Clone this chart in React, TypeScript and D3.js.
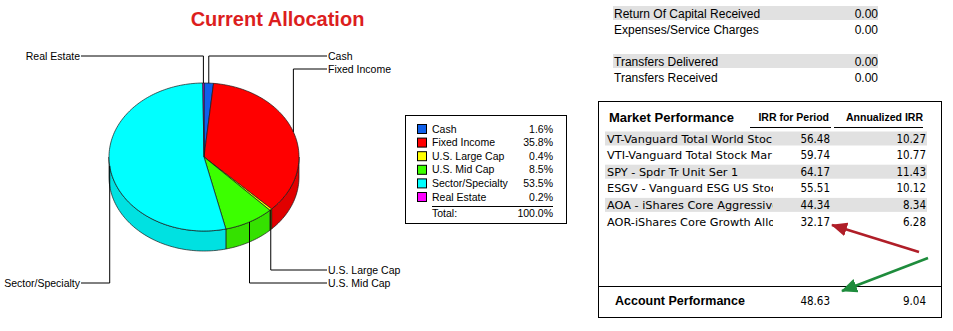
import React from "react";
import * as d3 from "d3";

const categories = ["Cash", "Fixed Income", "U.S. Large Cap", "U.S. Mid Cap", "Sector/Specialty", "Real Estate"];
const allocation = [1.6, 35.8, 0.4, 8.5, 53.5, 0.2];
const sliceColors = ["#1060ea", "#ff0000", "#ffff00", "#3cff00", "#00ffff", "#ff00ff"];
const totalLabel = "Total:";
const totalValue = 100.0;

const summaryLabels = ["Return Of Capital Received", "Expenses/Service Charges", "Transfers Delivered", "Transfers Received"];
const summaryValues = [0, 0, 0, 0];

const funds = [
  "VT-Vanguard Total World Stoc",
  "VTI-Vanguard Total Stock Mar",
  "SPY - Spdr Tr Unit Ser 1",
  "ESGV - Vanguard ESG US Stoc",
  "AOA - iShares Core Aggressive",
  "AOR-iShares Core Growth Alloc",
];
const irrPeriod = [56.48, 59.74, 64.17, 55.51, 44.34, 32.17];
const irrAnnual = [10.27, 10.77, 11.43, 10.12, 8.34, 6.28];
const accountIrr = [48.63, 9.04];

const FONT = "'Liberation Sans', Arial, sans-serif";
const TFONT = "'DejaVu Sans Condensed', 'DejaVu Sans', sans-serif";
const NFONT = "'DejaVu Sans', sans-serif";

function Pie3D() {
  const cx = 204, cy = 157, rx = 95, ry = 74, depth = 20;
  const pie = d3.pie<number>().sort(null).startAngle(0).endAngle(2 * Math.PI);
  const arcs = pie(allocation);
  const pt = (t: number, dy = 0): [number, number] => [cx + rx * Math.sin(t), cy - ry * Math.cos(t) + dy];
  const sample = (a0: number, a1: number, dy = 0) => {
    const n = Math.max(2, Math.ceil(((a1 - a0) / (2 * Math.PI)) * 240));
    return d3.range(n + 1).map((i) => pt(a0 + ((a1 - a0) * i) / n, dy));
  };
  const line = d3.line();
  const darker = (c: string) => d3.rgb(c).darker(0.35).formatHex();

  const sides = arcs.map((a, i) => {
    const s = Math.max(a.startAngle, Math.PI / 2);
    const e = Math.min(a.endAngle, (3 * Math.PI) / 2);
    if (s >= e) return null;
    const pts = [...sample(s, e), ...sample(s, e, depth).reverse()];
    return <path key={"s" + i} d={line(pts) + "Z"} fill={darker(sliceColors[i])} stroke="#1a1a1a" strokeWidth={0.7} />;
  });
  const tops = arcs.map((a, i) => {
    const pts: [number, number][] = [[cx, cy], ...sample(a.startAngle, a.endAngle)];
    return <path key={"t" + i} d={line(pts) + "Z"} fill={sliceColors[i]} stroke="#1a1a1a" strokeWidth={0.7} />;
  });

  const topY = 56, botY = 283, step = 13, rightX = 327, leftX = 81;
  const info = arcs.map((a, i) => {
    const m = (a.startAngle + a.endAngle) / 2;
    return { i, m, right: Math.sin(m) > 0, back: Math.cos(m) > 0 };
  });
  const yOf: number[] = [];
  const assign = (list: typeof info, startY: number, dir: number) => list.forEach((d, k) => (yOf[d.i] = startY + dir * k * step));
  assign(info.filter((d) => d.back && d.right).sort((a, b) => a.m - b.m), topY, 1);
  assign(info.filter((d) => d.back && !d.right).sort((a, b) => b.m - a.m), topY, 1);
  assign(info.filter((d) => !d.back && d.right).sort((a, b) => b.m - a.m), botY, -1);
  assign(info.filter((d) => !d.back && !d.right).sort((a, b) => a.m - b.m), botY, -1);

  const labels = info.map((d) => {
    const [x, y] = pt(d.m);
    const ly = yOf[d.i];
    const ex = d.right ? rightX : leftX;
    return (
      <g key={"l" + d.i}>
        <polyline points={`${x},${y} ${x},${ly} ${ex},${ly}`} fill="none" stroke="#000" strokeWidth={1} />
        <text x={d.right ? ex + 1 : ex - 1} y={ly + 3.5} fontSize={10.5} fontFamily={FONT} textAnchor={d.right ? "start" : "end"}>
          {categories[d.i]}
        </text>
      </g>
    );
  });

  return (
    <g>
      {sides}
      {tops}
      {labels}
    </g>
  );
}

function Legend() {
  const x0 = 405, y0 = 115, w = 161, h = 108;
  const rowY = (i: number) => y0 + 14 + i * 13.6;
  return (
    <g fontFamily={FONT} fontSize={10.5}>
      <rect x={x0 + 0.5} y={y0 + 0.5} width={w} height={h} fill="#fff" stroke="#000" />
      {categories.map((c, i) => (
        <g key={c}>
          <rect x={x0 + 12.5} y={rowY(i) - 4.5} width={9} height={9} fill={sliceColors[i]} stroke="#000" />
          <text x={x0 + 27} y={rowY(i) + 3.5}>{c}</text>
          <text x={x0 + 148} y={rowY(i) + 3.5} textAnchor="end">{allocation[i].toFixed(1)}%</text>
        </g>
      ))}
      <line x1={x0 + 27} x2={x0 + 148} y1={y0 + 91.5} y2={y0 + 91.5} stroke="#000" />
      <text x={x0 + 27} y={y0 + 102}>{totalLabel}</text>
      <text x={x0 + 148} y={y0 + 102} textAnchor="end">{totalValue.toFixed(1)}%</text>
    </g>
  );
}

function Summary() {
  const x0 = 613, x1 = 878;
  return (
    <g fontFamily={FONT} fontSize={12}>
      {summaryLabels.map((s, i) => {
        const g = Math.floor(i / 2), j = i % 2;
        const base = 18 + g * 48 + j * 15.5;
        return (
          <g key={s}>
            {j === 0 && <rect x={x0} y={base - 12} width={x1 - x0} height={14} fill="#e1e1e1" />}
            <text x={x0 + 1} y={base}>{s}</text>
            <text x={x1} y={base} textAnchor="end">{summaryValues[i].toFixed(2)}</text>
          </g>
        );
      })}
    </g>
  );
}

function Market() {
  const bx = 598.5, by = 101.5, bw = 343, bh = 216;
  const pitch = 16.6;
  const y = d3.scaleBand<number>().domain(d3.range(funds.length)).range([131.5, 131.5 + pitch * funds.length]);
  const nameClipR = 773, c1 = 830, c2 = 926;
  return (
    <g fontFamily={FONT}>
      <defs>
        <clipPath id="nameclip">
          <rect x={600} y={125} width={nameClipR - 600} height={110} />
        </clipPath>
        <marker id="arrR" viewBox="0 0 16 14" refX={15} refY={7} markerWidth={16} markerHeight={14} markerUnits="userSpaceOnUse" orient="auto">
          <path d="M0,0 L16,7 L0,14 Z" fill="#b01e28" />
        </marker>
        <marker id="arrG" viewBox="0 0 16 14" refX={15} refY={7} markerWidth={16} markerHeight={14} markerUnits="userSpaceOnUse" orient="auto">
          <path d="M0,0 L16,7 L0,14 Z" fill="#1e8c3c" />
        </marker>
      </defs>
      <rect x={bx} y={by} width={bw} height={bh} fill="#fff" stroke="#000" />
      <text x={609} y={122} fontSize={13} fontWeight="bold">Market Performance</text>
      <text x={c1 - 1} y={121} fontSize={10.5} fontWeight="bold" textAnchor="end">IRR for Period</text>
      <text x={c2 - 3} y={121} fontSize={10.5} fontWeight="bold" textAnchor="end">Annualized IRR</text>
      <line x1={750} x2={831} y1={127.5} y2={127.5} stroke="#000" />
      <line x1={834} x2={923} y1={127.5} y2={127.5} stroke="#000" />
      {funds.map((f, i) => (
        <g key={f} fontSize={11.5} fontFamily={TFONT}>
          {i % 2 === 0 && <rect x={605} y={y(i)!} width={c2 + 1 - 605} height={14} fill="#e1e1e1" />}
          <text x={607} y={y(i)! + 11} fontFamily={NFONT} fontSize={11.3} clipPath="url(#nameclip)">{f}</text>
          <text x={c1} y={y(i)! + 11} textAnchor="end">{irrPeriod[i].toFixed(2)}</text>
          <text x={c2} y={y(i)! + 11} textAnchor="end">{irrAnnual[i].toFixed(2)}</text>
        </g>
      ))}
      <line x1={bx} x2={bx + bw} y1={286.5} y2={286.5} stroke="#000" />
      <text x={615} y={305} fontSize={12.5} fontWeight="bold">Account Performance</text>
      <text x={c1} y={304.5} fontSize={11.5} fontFamily={TFONT} textAnchor="end">{accountIrr[0].toFixed(2)}</text>
      <text x={c2} y={304.5} fontSize={11.5} fontFamily={TFONT} textAnchor="end">{accountIrr[1].toFixed(2)}</text>
      <line x1={919} y1={252} x2={832} y2={225} stroke="#b01e28" strokeWidth={2.5} markerEnd="url(#arrR)" />
      <line x1={928} y1={258} x2={842} y2={291} stroke="#1e8c3c" strokeWidth={2.5} markerEnd="url(#arrG)" />
    </g>
  );
}

export default function App() {
  return (
    <>
      <style>{`body{margin:0}`}</style>
      <svg width={953} height={331} style={{ display: "block", background: "#fff" }}>
        <text x={277.5} y={26} textAnchor="middle" fontFamily={FONT} fontWeight="bold" fontSize={20} fill="#dc1e1e">
          Current Allocation
        </text>
        <Pie3D />
        <Legend />
        <Summary />
        <Market />
      </svg>
    </>
  );
}
